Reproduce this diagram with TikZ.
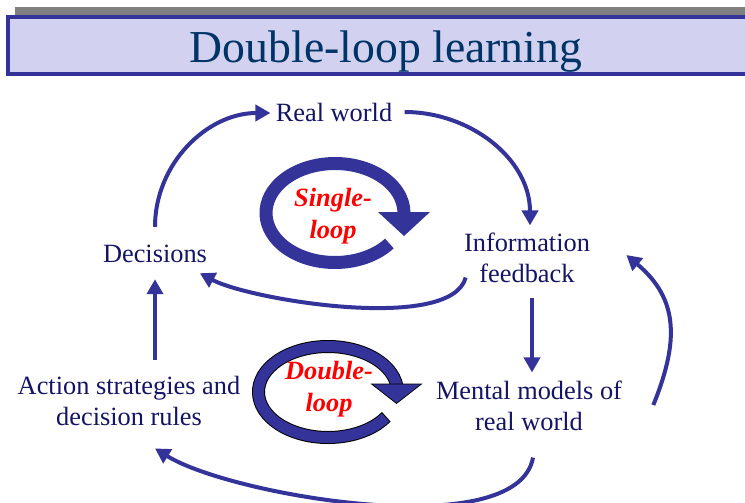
\documentclass[tikz,border=0pt]{standalone}
\usepackage{fontspec}
\setmainfont{Liberation Serif}
\usetikzlibrary{arrows.meta,calc}
\definecolor{loopblue}{HTML}{333399}
\definecolor{barfill}{HTML}{D2D2F0}
\definecolor{titlenavy}{HTML}{003366}
\definecolor{textnavy}{HTML}{141466}

\begin{document}
\begin{tikzpicture}[
    lbl/.style={inner sep=0, align=center, text=textnavy, font=\fontsize{15}{18}\selectfont},
    looplbl/.style={inner sep=0, align=center, text=red, font=\fontsize{15}{18}\selectfont\bfseries\itshape},
    flow/.style={draw=loopblue, line width=0.08cm, -{Triangle[length=0.3cm,width=0.32cm]}},
    ring/.style={draw=loopblue, line width=0.26cm}]
    \useasboundingbox (0,0) rectangle (14.9,10.04);

    % title bar
    \fill[gray] (0.30,9.74) rectangle (15,9.90);
    \draw[loopblue, fill=barfill, line width=0.09cm] (0.165,8.56) rectangle (15.2,9.70);
    \node[anchor=base, inner sep=0, text=titlenavy, font=\fontsize{26}{30}\selectfont] (title) at (7.72,8.78) {Double-loop learning};

    \node[lbl] (real) at (6.68,7.80) {Real world};
    \node[lbl] (dec) at (3.10,4.96) {Decisions};
    \node[lbl] (info) at (10.54,4.88) {Information\\feedback};
    \node[lbl] (act) at (2.58,2.02) {Action strategies and\\decision rules};
    \node[lbl] (mental) at (10.58,1.92) {Mental models of\\real world};

    % single loop
    \draw[ring] ($(6.70,5.78)+(-38:1.38cm and 0.99cm)$) arc[start angle=-38, end angle=-360, x radius=1.38cm, y radius=0.99cm];
    \fill[loopblue] (7.56,5.80) -- (8.60,5.80) -- (8.08,5.32) -- cycle;
    \node[looplbl] (single) at (6.66,5.72) {Single-\\loop};

    % double loop
    \draw[line width=0.26cm] ($(6.56,2.20)+(-33:1.39cm and 0.91cm)$) arc[start angle=-33, end angle=-354, x radius=1.39cm, y radius=0.91cm];
    \draw[loopblue, line width=0.22cm] ($(6.56,2.20)+(-34:1.39cm and 0.91cm)$) arc[start angle=-34, end angle=-354, x radius=1.39cm, y radius=0.91cm];
    \filldraw[fill=loopblue, draw=black, line width=0.4pt] (7.43,2.36) -- (8.43,2.36) -- (7.93,1.97) -- cycle;
    \node[looplbl] (double) at (6.58,2.26) {Double-\\loop};

    \draw[flow] ($(dec.north)+(0,0.36)$) to[out=90,in=180] ($(real.west)+(-0.10,-0.02)$);
    \draw[flow] ($(real.east)+(0.24,0)$) to[out=0,in=90] ($(info.north)+(0.06,0.14)$);
    \draw[flow] ($(info.south west)+(0.04,0.12)$) to[out=-105,in=-28,looseness=0.55] ($(dec.south east)+(-0.15,-0.20)$);
    \draw[flow] ($(info.south)+(0.10,-0.28)$) -- ($(info.south |- mental.north)+(0.10,0.16)$);
    \draw[flow] ($(mental.south)+(0.08,-0.52)$) to[out=-100,in=-32,looseness=0.6] ($(act.south)+(0.52,-0.44)$);
    \draw[flow] ($(act.north -| dec.south)+(0,0.32)$) -- ($(dec.south)+(0,-0.32)$);
    \draw[flow] ($(mental.east)+(0.62,0.02)$) to[out=68,in=-40,looseness=1.15] ($(info.east)+(0.72,0.06)$);
\end{tikzpicture}
\end{document}
